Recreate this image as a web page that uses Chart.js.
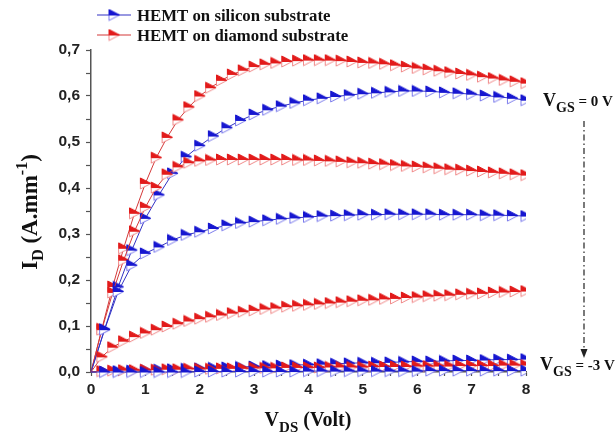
<!DOCTYPE html>
<html>
<head>
<meta charset="utf-8">
<script src="https://cdn.jsdelivr.net/npm/chart.js@4.4.0/dist/chart.umd.min.js"></script>
<style>
html, body { margin: 0; padding: 0; background: #fff; }
#wrap { width: 615px; height: 438px; }
</style>
</head>
<body>
<div id="wrap"><canvas id="ivChart" width="615" height="438"></canvas></div>
<script>
// drain voltage sweeps (silicon measured every 0.25 V, diamond every 0.2 V)
const vdsSi = [0, 0.25, 0.5, 0.75, 1, 1.25, 1.5, 1.75, 2, 2.25, 2.5, 2.75, 3, 3.25, 3.5, 3.75,
    4, 4.25, 4.5, 4.75, 5, 5.25, 5.5, 5.75, 6, 6.25, 6.5, 6.75, 7, 7.25, 7.5, 7.75, 8];
const vdsDia = [0, 0.2, 0.4, 0.6, 0.8, 1, 1.2, 1.4, 1.6, 1.8, 2, 2.2, 2.4, 2.6, 2.8, 3, 3.2, 3.4,
    3.6, 3.8, 4, 4.2, 4.4, 4.6, 4.8, 5, 5.2, 5.4, 5.6, 5.8, 6, 6.2, 6.4, 6.6, 6.8, 7, 7.2, 7.4,
    7.6, 7.8, 8];

// HEMT on silicon, VGS = 0, -1, -2, -3 V
const idSi0 = [0, 0.093, 0.185, 0.265, 0.334, 0.385, 0.432, 0.468, 0.492, 0.513, 0.531, 0.547,
    0.560, 0.570, 0.578, 0.585, 0.591, 0.595, 0.599, 0.602, 0.605, 0.607, 0.609, 0.611, 0.611,
    0.610, 0.608, 0.606, 0.604, 0.601, 0.598, 0.595, 0.591];
const idSi1 = [0, 0.092, 0.175, 0.232, 0.258, 0.272, 0.287, 0.298, 0.305, 0.312, 0.319, 0.324,
    0.327, 0.330, 0.333, 0.335, 0.337, 0.339, 0.340, 0.341, 0.342, 0.342, 0.343, 0.343, 0.343,
    0.343, 0.342, 0.342, 0.342, 0.341, 0.341, 0.340, 0.339];
const idSi2 = [0, 0.001, 0.002, 0.003, 0.004, 0.005, 0.006, 0.007, 0.008, 0.009, 0.010, 0.011,
    0.012, 0.013, 0.014, 0.015, 0.016, 0.017, 0.018, 0.019, 0.020, 0.020, 0.021, 0.022, 0.023,
    0.023, 0.024, 0.025, 0.025, 0.026, 0.027, 0.027, 0.028];
const idSi3 = [0, 0, 0, 0, 0, 0, 0, 0, 0.001, 0.001, 0.001, 0.001, 0.001, 0.001, 0.001, 0.001,
    0.002, 0.002, 0.002, 0.002, 0.002, 0.002, 0.002, 0.002, 0.002, 0.003, 0.003, 0.003, 0.003,
    0.003, 0.003, 0.003, 0.003];

// HEMT on diamond, VGS = 0, -1, -2, -3 V
const idDia0 = [0, 0.094, 0.186, 0.269, 0.345, 0.410, 0.466, 0.510, 0.548, 0.576, 0.600, 0.618,
    0.634, 0.647, 0.656, 0.664, 0.669, 0.672, 0.675, 0.677, 0.678, 0.678, 0.678, 0.677, 0.675,
    0.673, 0.672, 0.670, 0.667, 0.664, 0.661, 0.658, 0.655, 0.652, 0.649, 0.646, 0.642, 0.639,
    0.635, 0.632, 0.628];
const idDia1 = [0, 0.092, 0.173, 0.243, 0.306, 0.358, 0.401, 0.430, 0.446, 0.455, 0.459, 0.461,
    0.462, 0.462, 0.462, 0.462, 0.462, 0.462, 0.462, 0.461, 0.461, 0.460, 0.459, 0.458, 0.456,
    0.455, 0.453, 0.452, 0.450, 0.448, 0.447, 0.445, 0.443, 0.441, 0.440, 0.438, 0.436, 0.434,
    0.432, 0.430, 0.428];
const idDia2 = [0, 0.033, 0.054, 0.067, 0.077, 0.085, 0.092, 0.099, 0.105, 0.111, 0.116, 0.120,
    0.124, 0.128, 0.131, 0.134, 0.137, 0.139, 0.142, 0.144, 0.146, 0.148, 0.150, 0.152, 0.154,
    0.156, 0.157, 0.159, 0.160, 0.162, 0.163, 0.165, 0.166, 0.167, 0.169, 0.170, 0.171, 0.173,
    0.174, 0.175, 0.176];
const idDia3 = [0, 0.002, 0.003, 0.004, 0.004, 0.005, 0.005, 0.006, 0.006, 0.007, 0.007, 0.007,
    0.008, 0.008, 0.008, 0.009, 0.009, 0.009, 0.010, 0.010, 0.010, 0.010, 0.011, 0.011, 0.011,
    0.011, 0.012, 0.012, 0.012, 0.012, 0.013, 0.013, 0.013, 0.013, 0.014, 0.014, 0.014, 0.014,
    0.015, 0.015, 0.015];

const legendNames = ['HEMT on silicon substrate', 'HEMT on diamond substrate'];
const blueDark = '#1616d0', blueLight = '#7c7cec', blueLine = '#3232c4';
const redDark = '#e21a1a', redLight = '#f08a8a', redLine = '#d43838';

// half filled right pointing triangle, the look of the original markers
function makeMarker(dark, light) {
    const c = document.createElement('canvas');
    c.width = 13;
    c.height = 13;
    const g = c.getContext('2d');
    g.lineWidth = 1;
    g.beginPath();
    g.moveTo(1.5, 6.5); g.lineTo(12, 6.5); g.lineTo(1.5, 12); g.closePath();
    g.fillStyle = '#fff';
    g.fill();
    g.strokeStyle = light;
    g.stroke();
    g.beginPath();
    g.moveTo(1.5, 1); g.lineTo(12, 6.5); g.lineTo(1.5, 6.5); g.closePath();
    g.fillStyle = dark;
    g.fill();
    g.strokeStyle = dark;
    g.stroke();
    return c;
}
const markSi = makeMarker(blueDark, blueLight);
const markDia = makeMarker(redDark, redLight);

function series(xs, ys, color, mark) {
    return {
        data: xs.map((x, i) => ({x: x, y: ys[i]})),
        borderColor: color,
        borderWidth: 1,
        pointStyle: mark,
        pointRadius: ctx => ctx.dataIndex === 0 ? 0 : 6,
        clip: {left: 10, top: 10, right: 0, bottom: 10}
    };
}

// draws a string made of runs (normal / subscript / superscript)
function runs(ctx, parts, x, y, center) {
    let w = 0;
    parts.forEach(p => {
        ctx.font = 'bold ' + p.size + 'px "Liberation Serif", serif';
        p.w = ctx.measureText(p.t).width;
        w += p.w;
    });
    let cx = center ? x - w / 2 : x;
    parts.forEach(p => {
        ctx.font = 'bold ' + p.size + 'px "Liberation Serif", serif';
        ctx.fillText(p.t, cx, y + (p.dy || 0));
        cx += p.w;
    });
}

const annotations = {
    id: 'annotations',
    afterDraw(chart) {
        const ctx = chart.ctx;
        ctx.save();
        ctx.fillStyle = '#111';
        ctx.textBaseline = 'alphabetic';

        // legend
        [[15, blueLine, markSi], [35, redLine, markDia]].forEach((r, i) => {
            ctx.strokeStyle = r[1];
            ctx.lineWidth = 1.2;
            ctx.beginPath();
            ctx.moveTo(97, r[0]);
            ctx.lineTo(131, r[0]);
            ctx.stroke();
            ctx.drawImage(r[2], 114 - 6.5, r[0] - 6.5);
            ctx.fillStyle = '#111';
            ctx.font = 'bold 16.8px "Liberation Serif", serif';
            ctx.fillText(legendNames[i], 137, r[0] + 6);
        });

        // axis titles
        runs(ctx, [{t: 'V', size: 20}, {t: 'DS', size: 15, dy: 6}, {t: ' (Volt)', size: 20}], 308, 426, true);
        ctx.save();
        ctx.translate(37, 212);
        ctx.rotate(-Math.PI / 2);
        runs(ctx, [{t: 'I', size: 23}, {t: 'D', size: 16, dy: 6}, {t: ' (A.mm', size: 23},
            {t: '-1', size: 16, dy: -10}, {t: ')', size: 23}], 0, 0, true);
        ctx.restore();

        // gate voltage labels
        runs(ctx, [{t: 'V', size: 18}, {t: 'GS', size: 14, dy: 6}, {t: ' = 0 V', size: 15}], 543, 106, false);
        runs(ctx, [{t: 'V', size: 18}, {t: 'GS', size: 14, dy: 6}, {t: ' = -3 V', size: 15}], 540, 370, false);

        // dash dot arrow
        ctx.strokeStyle = '#222';
        ctx.lineWidth = 1.2;
        ctx.setLineDash([6, 3, 1.5, 3]);
        ctx.beginPath();
        ctx.moveTo(584, 121);
        ctx.lineTo(584, 350);
        ctx.stroke();
        ctx.setLineDash([]);
        ctx.fillStyle = '#222';
        ctx.beginPath();
        ctx.moveTo(580.5, 349);
        ctx.lineTo(587.5, 349);
        ctx.lineTo(584, 358);
        ctx.closePath();
        ctx.fill();
        ctx.restore();
    }
};

const tickFont = {family: '"Liberation Sans", Arial, sans-serif', size: 15.5, weight: 'bold'};

new Chart(document.getElementById('ivChart').getContext('2d'), {
    type: 'line',
    data: {
        datasets: [
            series(vdsSi, idSi3, blueLine, markSi),
            series(vdsDia, idDia3, redLine, markDia),
            series(vdsSi, idSi2, blueLine, markSi),
            series(vdsDia, idDia2, redLine, markDia),
            series(vdsSi, idSi1, blueLine, markSi),
            series(vdsDia, idDia1, redLine, markDia),
            series(vdsSi, idSi0, blueLine, markSi),
            series(vdsDia, idDia0, redLine, markDia)
        ]
    },
    options: {
        responsive: false,
        animation: false,
        devicePixelRatio: 1,
        layout: {padding: {top: 50, right: 89, left: 0, bottom: 0}},
        plugins: {legend: {display: false}, tooltip: {enabled: false}},
        scales: {
            x: {
                type: 'linear',
                min: 0,
                max: 8,
                afterFit: s => { s.height = 66; },
                border: {color: '#555', width: 1.5},
                grid: {drawOnChartArea: false, tickLength: 4, color: '#555', tickWidth: 1.2},
                ticks: {
                    stepSize: 0.5,
                    autoSkip: false,
                    maxRotation: 0,
                    padding: 4,
                    color: '#222',
                    font: tickFont,
                    callback: v => Number.isInteger(v) ? String(v) : ''
                }
            },
            y: {
                min: 0,
                max: 0.7,
                afterFit: s => { s.width = 91; },
                border: {color: '#555', width: 1.5},
                grid: {drawOnChartArea: false, tickLength: 5, color: '#555', tickWidth: 1.2},
                ticks: {
                    stepSize: 0.05,
                    autoSkip: false,
                    padding: 6,
                    color: '#222',
                    font: tickFont,
                    callback: v => {
                        const t = Math.round(v * 100);
                        return t % 10 === 0 ? (t / 100).toFixed(1).replace('.', ',') : '';
                    }
                }
            }
        }
    },
    plugins: [annotations]
});
</script>
</body>
</html>
